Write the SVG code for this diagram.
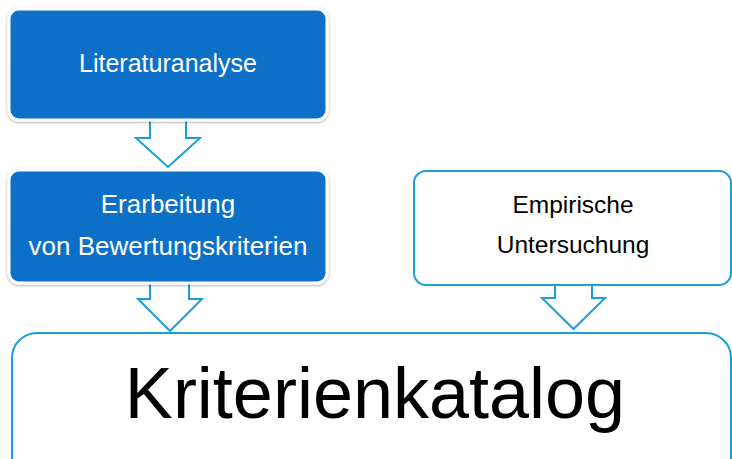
<svg xmlns="http://www.w3.org/2000/svg" width="732" height="459" viewBox="0 0 732 459">
<defs>
<filter id="sh" x="-10%" y="-10%" width="120%" height="130%">
<feDropShadow dx="0" dy="1" stdDeviation="1.5" flood-color="#000" flood-opacity="0.35"/>
</filter>
</defs>
<style>
.blue{fill:#1170C8;stroke:#ffffff;stroke-width:3;filter:url(#sh)}
.out{fill:#ffffff;stroke:#1A9FD9;stroke-width:2}
.arr{fill:#ffffff;stroke:#1A9FD9;stroke-width:2;stroke-linejoin:miter}
.wt{fill:#ffffff;font-family:"Liberation Sans",Arial,sans-serif;font-size:25px;text-anchor:middle}
.wt2{fill:#ffffff;font-family:"Liberation Sans",Arial,sans-serif;font-size:26px;text-anchor:middle}
.bt{fill:#000000;font-family:"Liberation Sans",Arial,sans-serif;font-size:24.5px;text-anchor:middle}
.big{fill:#000000;font-family:"Liberation Sans",Arial,sans-serif;font-size:72px;text-anchor:middle}
</style>
<rect width="732" height="459" fill="#ffffff"/>
<g id="connectors">
<path class="arr" d="M150,118 V138 H136 L168,167 L200,138 H186 V118"/>
<path class="arr" d="M150,280 V299 H138 L170,331 L202,299 H189 V280"/>
<path class="arr" d="M555,283 V298 H542 L573.5,329 L605,298 H592 V283"/>
</g>
<g id="literaturanalyse">
<rect class="blue" x="9" y="9" width="318" height="111" rx="10"/>
<text class="wt" x="168" y="72">Literaturanalyse</text>
</g>
<g id="erarbeitung">
<rect class="blue" x="9" y="170" width="318" height="113" rx="10"/>
<text class="wt2" x="168" y="213">Erarbeitung</text>
<text class="wt2" x="168" y="255">von Bewertungskriterien</text>
</g>
<g id="empirische">
<rect class="out" x="414" y="171" width="317" height="114" rx="12"/>
<text class="bt" x="573" y="213">Empirische</text>
<text class="bt" x="573" y="253">Untersuchung</text>
</g>
<g id="kriterienkatalog">
<rect class="out" x="12" y="333" width="719" height="160" rx="25"/>
<text class="big" x="375" y="418">Kriterienkatalog</text>
</g>
</svg>
